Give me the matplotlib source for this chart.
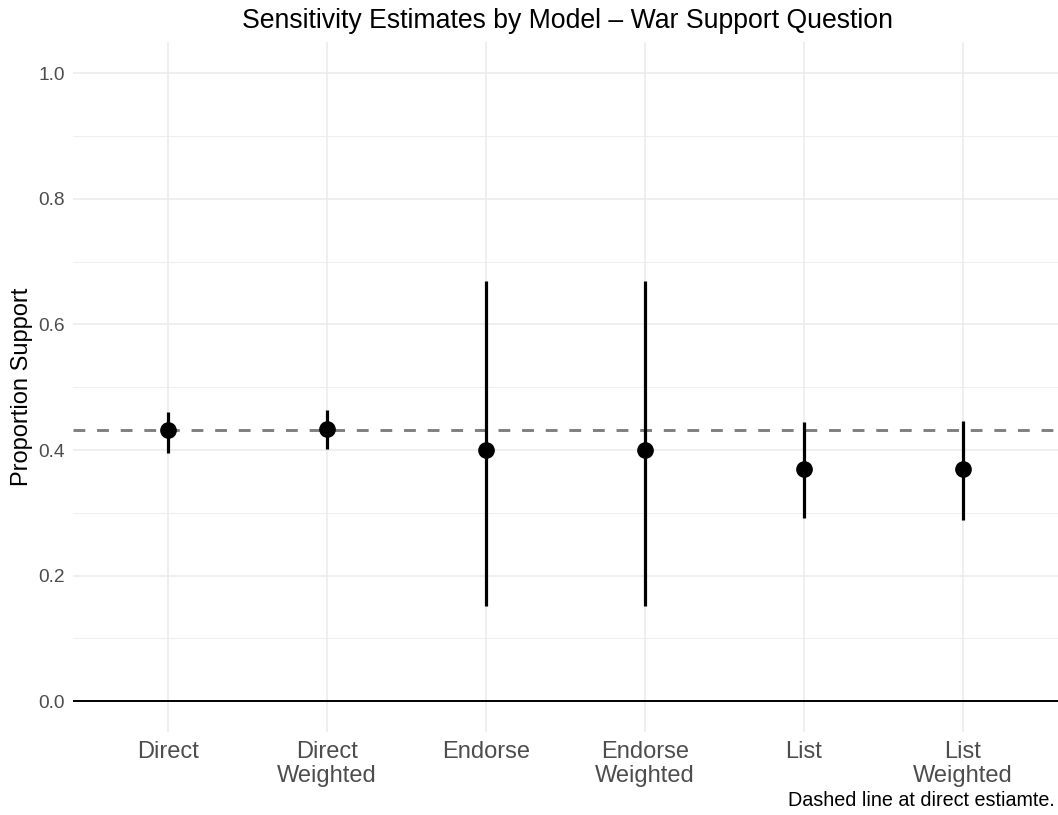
import matplotlib.pyplot as plt
from matplotlib.ticker import MultipleLocator
import numpy as np

plt.rcParams['font.family'] = ['Liberation Sans', 'DejaVu Sans']
plt.rcParams['lines.scale_dashes'] = False

# estimates with 95% intervals
models = ["Direct", "Direct\nWeighted", "Endorse", "Endorse\nWeighted", "List", "List\nWeighted"]
estimate = [0.432, 0.433, 0.400, 0.400, 0.369, 0.370]
lower = [0.396, 0.401, 0.151, 0.151, 0.292, 0.288]
upper = [0.461, 0.463, 0.670, 0.670, 0.444, 0.446]
direct_estimate = 0.432

W, H = 1058, 815
fig = plt.figure(figsize=(W / 100, H / 100), dpi=100)
ax = fig.add_axes([73 / W, 1 - 732.4 / H, (W - 73) / W, (732.4 - 42.1) / H])
ax.set_axisbelow(True)

x = np.arange(len(models))
grid_col = "#EBEBEB"
for xi in x:
    ax.axvline(xi, color=grid_col, lw=1.1, zorder=0)
ax.set_yticks(np.arange(0, 1.01, 0.2))
ax.yaxis.set_minor_locator(MultipleLocator(0.1))
ax.grid(axis="y", which="major", color=grid_col, lw=1.1)
ax.grid(axis="y", which="minor", color=grid_col, lw=0.6)

ax.axhline(0, color="black", lw=1.4, zorder=2)
ax.axhline(direct_estimate, color="#7F7F7F", lw=2.1, dashes=(8.5, 8.5), zorder=2)

est = np.array(estimate)
ax.vlines(x, lower, upper, color="black", lw=2.3, zorder=3)
ax.plot(x, est, "o", color="black", ms=11, zorder=4)

ax.set_xlim(-0.6, len(models) - 0.4)
ax.set_ylim(-0.05, 1.05)
ax.set_xticks(x)
ax.set_xticklabels(models, fontsize=17, color="#4D4D4D", linespacing=1.12)
ax.set_yticklabels([f"{v:.1f}" for v in np.arange(0, 1.01, 0.2)], fontsize=13.8, color="#4D4D4D")
ax.tick_params(axis="both", which="both", length=0)
ax.tick_params(axis="x", pad=6.5)
ax.tick_params(axis="y", pad=6)
for s in ax.spines.values():
    s.set_visible(False)

fig.text(22 / W, 1 - 387 / H, "Proportion Support", rotation=90,
         ha="center", va="center", fontsize=17, color="black")
fig.text(567 / W, 1 - 21 / H, "Sensitivity Estimates by Model \u2013 War Support Question",
         ha="center", va="center", fontsize=19.2, color="black")
fig.text(1055 / W, 1 - 801 / H, "Dashed line at direct estiamte.",
         ha="right", va="center", fontsize=14.2, color="black")

fig.savefig("out.png", dpi=100, facecolor="white")
